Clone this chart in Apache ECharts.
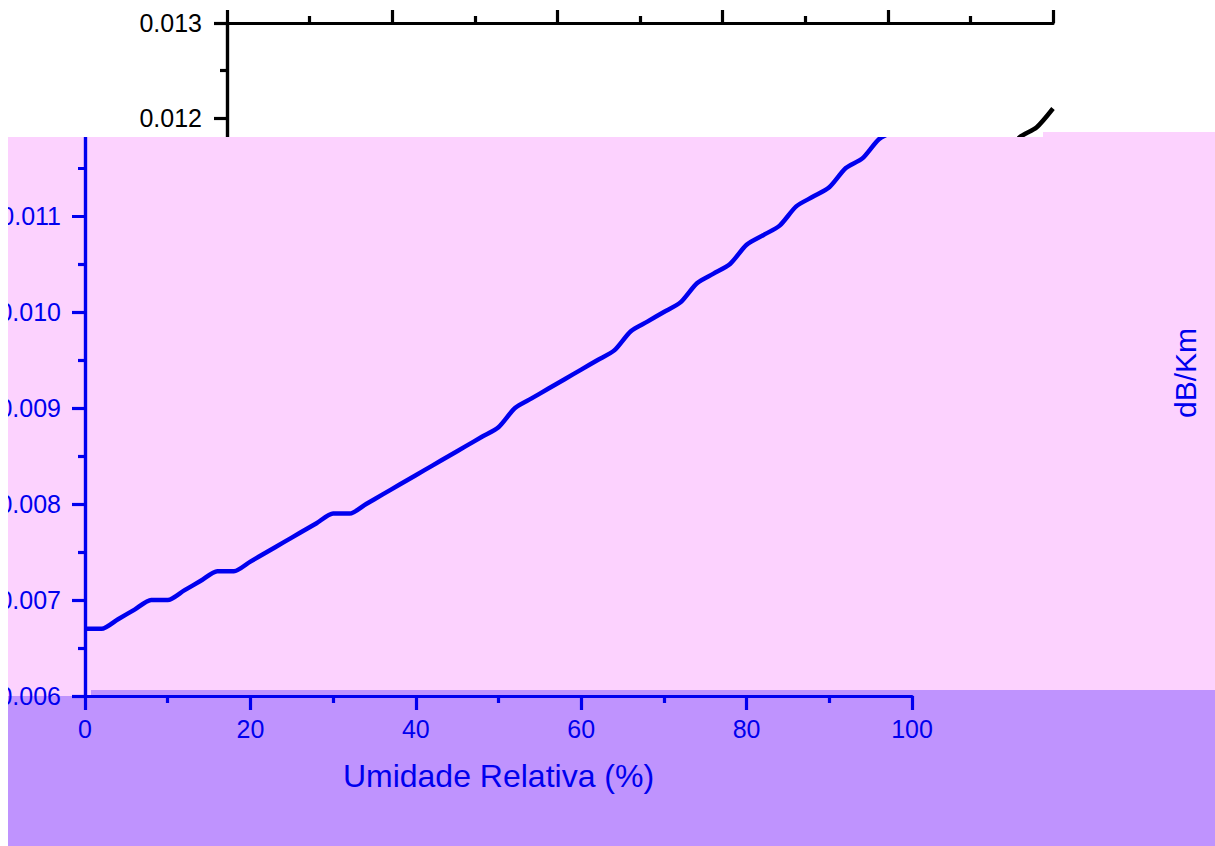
<!DOCTYPE html>
<html>
<head>
<meta charset="utf-8">
<script src="https://cdn.jsdelivr.net/npm/echarts@6/dist/echarts.min.js"></script>
<style>
  html, body { margin: 0; padding: 0; background: #ffffff; }
  #base, #inset { position: absolute; left: 0; top: 0; width: 1215px; height: 846px; }
  /* the highlighted panel only shows inside this outline */
  #inset { clip-path: polygon(8px 137px, 1043px 137px, 1043px 132px, 1215px 132px, 1215px 846px, 8px 846px); }
</style>
</head>
<body>
<div id="base"></div>
<div id="inset"></div>
<script>
// Relative humidity (%)
const humidity = [
  0, 2, 4, 6, 8, 10, 12, 14, 16, 18,
  20, 22, 24, 26, 28, 30, 32, 34, 36, 38,
  40, 42, 44, 46, 48, 50, 52, 54, 56, 58,
  60, 62, 64, 66, 68, 70, 72, 74, 76, 78,
  80, 82, 84, 86, 88, 90, 92, 94, 96, 98, 100
];
// Specific attenuation (dB/Km)
const attenuation = [
  0.0067, 0.0067, 0.0068, 0.0069, 0.0070, 0.0070, 0.0071, 0.0072, 0.0073, 0.0073,
  0.0074, 0.0075, 0.0076, 0.0077, 0.0078, 0.0079, 0.0079, 0.0080, 0.0081, 0.0082,
  0.0083, 0.0084, 0.0085, 0.0086, 0.0087, 0.0088, 0.0090, 0.0091, 0.0092, 0.0093,
  0.0094, 0.0095, 0.0096, 0.0098, 0.0099, 0.0100, 0.0101, 0.0103, 0.0104, 0.0105,
  0.0107, 0.0108, 0.0109, 0.0111, 0.0112, 0.0113, 0.0115, 0.0116, 0.0118, 0.0119, 0.0121
];
const xTitle = 'Umidade Relativa (%)';
const yTitle = 'dB/Km';

const points = humidity.map((h, i) => [h, attenuation[i]]);
const FONT = '"Liberation Sans", Arial, sans-serif';
const LABEL_SIZE = 25;
// the coloured panel covers everything below this value on the base chart
const PANEL_TOP_VALUE = 0.0115;

function frameAxes(color) {
  const line = { show: true, lineStyle: { color: color, width: 3.2 } };
  const tick = { show: true, inside: false, length: 14, lineStyle: { color: color, width: 3.2 } };
  const minor = { show: true, splitNumber: 2, length: 7, lineStyle: { color: color, width: 3.2 } };
  return { line, tick, minor };
}

// ---------- black chart underneath ----------
(function () {
  const c = '#000000';
  const f = frameAxes(c);
  const chart = echarts.init(document.getElementById('base'), null, { renderer: 'svg' });
  chart.setOption({
    animation: false,
    backgroundColor: '#ffffff',
    grid: { left: 227, right: 162, top: 23, bottom: 158, outerBoundsMode: 'none', containLabel: false },
    xAxis: [
      { type: 'value', position: 'bottom', min: 0, max: 100, interval: 20,
        axisLine: f.line, axisTick: f.tick, minorTick: f.minor, splitLine: { show: false },
        axisLabel: { show: false } },
      { type: 'value', position: 'top', min: 0, max: 100, interval: 20,
        axisLine: f.line, axisTick: Object.assign({}, f.tick, { length: 13 }), minorTick: f.minor,
        splitLine: { show: false }, axisLabel: { show: false } }
    ],
    yAxis: [
      { type: 'value', position: 'left', min: 0.006, max: 0.013, interval: 0.001,
        axisLine: f.line, axisTick: Object.assign({}, f.tick, { length: 13 }), minorTick: f.minor,
        splitLine: { show: false },
        axisLabel: { color: c, fontSize: LABEL_SIZE, fontFamily: FONT, margin: 25,
          formatter: v => (v > PANEL_TOP_VALUE ? v.toFixed(3) : '') } },
      { type: 'value', position: 'right', min: 0.006, max: 0.013, interval: 0.001,
        axisLine: f.line, axisTick: { show: false }, splitLine: { show: false },
        axisLabel: { show: false } }
    ],
    series: [{
      type: 'line', data: points, xAxisIndex: 0, yAxisIndex: 0,
      showSymbol: false, smooth: 0.25,
      lineStyle: { color: c, width: 4.5 }
    }]
  });
})();

// ---------- blue chart on the coloured panel ----------
(function () {
  const c = '#0000EE';
  const f = frameAxes(c);
  const chart = echarts.init(document.getElementById('inset'), null, { renderer: 'svg' });
  chart.setOption({
    animation: false,
    backgroundColor: '#FCD2FE',
    graphic: [
      { type: 'rect', z: -5, shape: { x: 91, y: 690, width: 1124, height: 156 }, style: { fill: '#BF93FE' } },
      { type: 'rect', z: -5, shape: { x: 0, y: 696, width: 91, height: 150 }, style: { fill: '#BF93FE' } }
    ],
    grid: { left: 85, right: 303, top: 24, bottom: 150, outerBoundsMode: 'none', containLabel: false },
    xAxis: [
      { type: 'value', position: 'bottom', min: 0, max: 100, interval: 20, z: 5,
        axisLine: f.line, axisTick: f.tick, minorTick: f.minor, splitLine: { show: false },
        axisLabel: { color: c, fontSize: LABEL_SIZE, fontFamily: FONT, margin: 20 },
        name: xTitle, nameLocation: 'middle', nameGap: 64,
        nameTextStyle: { color: c, fontSize: 32, fontFamily: FONT } },
      { type: 'value', position: 'top', min: 0, max: 100, interval: 20, z: 5,
        axisLine: f.line, axisTick: { show: false }, splitLine: { show: false },
        axisLabel: { show: false } }
    ],
    yAxis: [
      { type: 'value', position: 'left', min: 0.006, max: 0.013, interval: 0.001, z: 5,
        axisLine: f.line, axisTick: Object.assign({}, f.tick, { length: 13 }), minorTick: f.minor,
        splitLine: { show: false },
        axisLabel: { color: c, fontSize: LABEL_SIZE, fontFamily: FONT, margin: 24,
          formatter: v => (v < PANEL_TOP_VALUE ? v.toFixed(3) : '') } },
      { type: 'value', position: 'right', min: 0.006, max: 0.013, interval: 0.001, z: 5,
        axisLine: f.line, axisTick: { show: false }, splitLine: { show: false },
        axisLabel: { show: false },
        name: yTitle, nameLocation: 'middle', nameRotate: 90, nameGap: 258,
        nameTextStyle: { color: c, fontSize: 30, fontFamily: FONT, padding: [0, 26, 0, 0] } }
    ],
    series: [{
      type: 'line', data: points, xAxisIndex: 0, yAxisIndex: 0, z: 6,
      showSymbol: false, smooth: 0.25,
      lineStyle: { color: c, width: 4.5 }
    }]
  });
})();
</script>
</body>
</html>
